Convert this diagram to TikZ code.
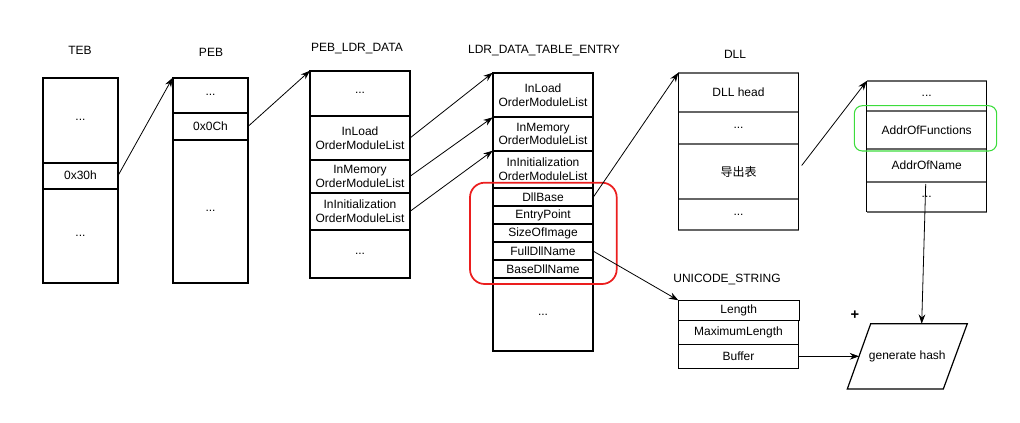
\documentclass[tikz,border=0pt]{standalone}
\usepackage{fontspec}
\setmainfont{Liberation Sans}
\newfontfamily\cjk{Noto Sans CJK SC}
\usetikzlibrary{arrows.meta}
\definecolor{gline}{RGB}{102,102,102}
\definecolor{redbox}{RGB}{235,30,30}
\definecolor{greenbox}{RGB}{60,220,60}
\newcommand\cellbox[7][cell]{\node[#1, minimum width={(#5-#3)*0.75pt}, minimum height={(#6-#4)*0.75pt}] (#2) at ({(#3+#5)/2},{(#4+#6)/2}) {#7};}
\tikzset{
  cell/.style={draw=black, line width=1.3pt, inner sep=0pt, outer sep=0pt, align=center},
  gcell/.style={draw=none, inner sep=0pt, outer sep=0pt, align=center},
  ucell/.style={draw=black, line width=0.9pt, inner sep=0pt, outer sep=0pt, align=center},
  gsep/.style={draw=gline, line width=1.5pt},
  vsep/.style={draw=black, line width=0.8pt},
  conn/.style={draw=black, line width=0.6pt, -{Stealth[length=7pt,width=5pt]}},
  title/.style={inner sep=0pt},
  para/.style={draw=black, line width=0.9pt},
}
\begin{document}
\begin{tikzpicture}[x=0.75pt,y=-0.75pt,font=\fontsize{9}{10.2}\selectfont]
\useasboundingbox (0,0) rectangle (1020,422);

% titles
\node[title] (tTEB) at (80,50.5) {TEB};
\node[title] (tPEB) at (211,52) {PEB};
\node[title] (tLDR) at (357,49) {PEB\_LDR\_DATA};
\node[title] (tENT) at (544,50.5) {LDR\_DATA\_TABLE\_ENTRY};
\node[title] (tDLL) at (735,54) {DLL};
\node[title] (tUNI) at (727,279.5) {UNICODE\_STRING};

% TEB
\cellbox{t1}{43}{77.7}{118}{162.7}{...}
\cellbox{t2}{43}{162.7}{118}{188.7}{0x30h}
\cellbox{t3}{43}{188.7}{118}{282.7}{...}

% PEB
\cellbox{p1}{172.7}{77.7}{248.3}{112.7}{...}
\cellbox{p2}{172.7}{112.7}{248.3}{139.7}{0x0Ch}
\cellbox{p3}{172.7}{139.7}{248.3}{282.7}{...}

% PEB_LDR_DATA
\cellbox{l1}{310}{70.7}{410}{116}{...}
\cellbox{l2}{310}{116}{410}{160}{InLoad\\OrderModuleList}
\cellbox{l3}{310}{160}{410}{192.7}{InMemory\\OrderModuleList}
\cellbox{l4}{310}{192.7}{410}{230}{InInitialization\\OrderModuleList}
\cellbox{l5}{310}{230}{410}{278.3}{...}

% LDR_DATA_TABLE_ENTRY
\cellbox{e1}{492.7}{72.7}{593.3}{117.3}{InLoad\\OrderModuleList}
\cellbox{e2}{492.7}{117.3}{593.3}{150.7}{InMemory\\OrderModuleList}
\cellbox{e3}{492.7}{150.7}{593.3}{188.3}{InInitialization\\OrderModuleList}
\cellbox{e4}{492.7}{188.3}{593.3}{206}{DllBase}
\cellbox{e5}{492.7}{206}{593.3}{224}{EntryPoint}
\cellbox{e6}{492.7}{224}{593.3}{242.3}{SizeOfImage}
\cellbox{e7}{492.7}{242.3}{593.3}{260}{FullDllName}
\cellbox{e8}{492.7}{260}{593.3}{278.3}{BaseDllName}
\cellbox{e9}{492.7}{278.3}{593.3}{351}{...}

% red highlight
\draw[redbox, line width=1.3pt, rounded corners=11pt] (470,182.7) rectangle (616.7,284);

% DLL
\cellbox[gcell]{d1}{678.3}{72.7}{798.7}{112.3}{DLL head}
\cellbox[gcell]{d2}{678.3}{112.3}{798.7}{144}{...}
\cellbox[gcell]{d3}{678.3}{144}{798.7}{199}{{\cjk 导出表}}
\cellbox[gcell]{d4}{678.3}{199}{798.7}{230}{...}
\foreach \c in {d1,d2,d3,d4} {\draw[gsep] (\c.north west) -- (\c.north east);}
\draw[gsep] (d4.south west) -- (d4.south east);
\draw[vsep] (d1.north west) -- (d4.south west);
\draw[vsep] (d1.north east) -- (d4.south east);

% export table
\cellbox[gcell]{r1}{866.7}{81}{986.7}{111}{...}
\cellbox[gcell]{r2}{866.7}{111}{986.7}{149.3}{AddrOfFunctions}
\cellbox[gcell]{r3}{866.7}{149.3}{986.7}{182}{AddrOfName}
\cellbox[gcell]{r4}{866.7}{182}{986.7}{212}{...}
\foreach \c in {r1,r2,r3,r4} {\draw[gsep] (\c.north west) -- (\c.north east);}
\draw[gsep] (r4.south west) -- (r4.south east);
\draw[vsep] (r1.north west) -- (r4.south west);
\draw[vsep] (r1.north east) -- (r4.south east);

% green highlight
\draw[greenbox, line width=0.8pt, rounded corners=6pt] (854.3,105.7) rectangle (996.7,151);

% UNICODE_STRING
\cellbox[ucell]{u1}{678.3}{300.3}{799.3}{320.7}{Length}
\cellbox[ucell]{u2}{678.3}{320.7}{798.7}{344.3}{MaximumLength}
\cellbox[ucell]{u3}{678.3}{344.3}{798.7}{368.3}{Buffer}

% generate hash (parallelogram)
\draw[para] (870.7,323.7) -- (967.3,323.7) -- (943.3,389) -- (847.3,389) -- cycle;
\node[title] (hash) at (907.3,356.3) {generate hash};
\coordinate (hashL) at (859.1,356.3);
\coordinate (hashT) at (921.7,323.7);
\node[title, font=\fontsize{11}{12}\selectfont\bfseries] (plus) at (855,315) {+};

% connectors
\draw[conn] (t2.east) -- (p1.north west);
\draw[conn] (p2.east) -- (l1.north west);
\draw[conn] (l2.east) -- (e1.north west);
\draw[conn] (l3.east) -- (e2.north west);
\draw[conn] (l4.east) -- (e3.north west);
\draw[conn] (e4.east) -- (d1.north west);
\draw[conn] (e7.east) -- (u1.north west);
\draw[conn] ([shift={(3,-6)}]d3.east) -- (r1.north west);
\draw[conn] ([shift={(-1,2)}]r3.south) -- (hashT);
\draw[conn] (u3.east) -- (hashL);
\end{tikzpicture}
\end{document}
